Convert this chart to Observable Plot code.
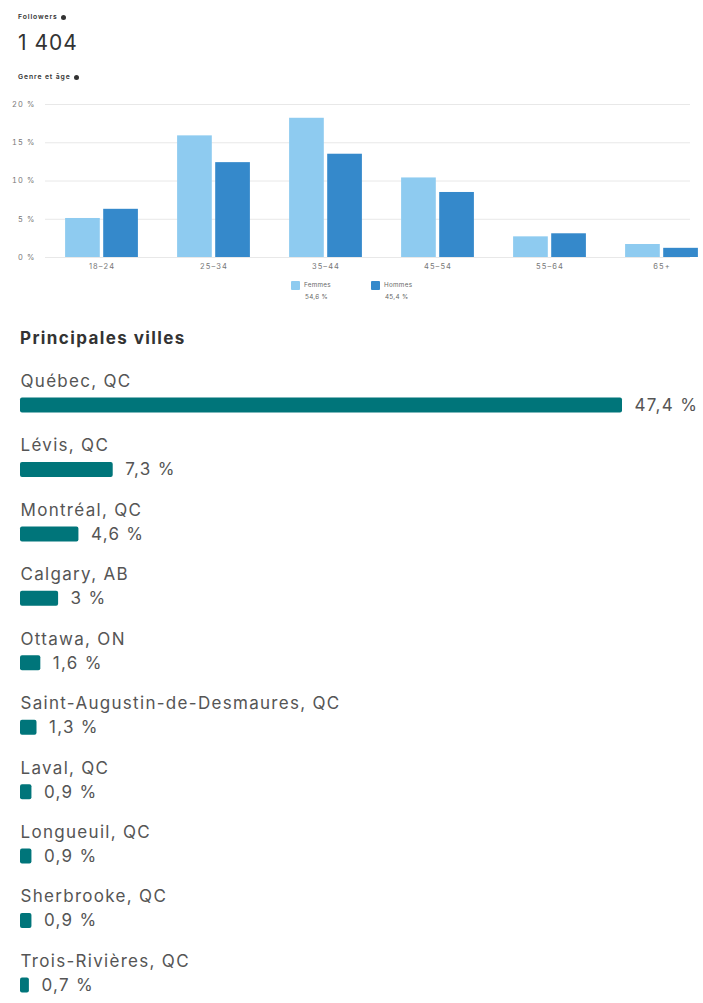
<!DOCTYPE html>
<html>
<head>
<meta charset="utf-8">
<script src="https://cdn.jsdelivr.net/npm/d3@7"></script>
<script src="https://cdn.jsdelivr.net/npm/@observablehq/plot@0.6"></script>
<style>
  html, body { margin: 0; padding: 0; background: #fff; }
  body { width: 703px; height: 1003px; position: relative; overflow: hidden; font-family: Inter, "Noto Sans", sans-serif; color: #333; }
  .abs { position: absolute; }
  .dot { display: inline-block; width: 5px; height: 5px; border-radius: 50%; background: #333; margin-left: 3px; vertical-align: middle; }
  .tiny { font-size: 6.8px; font-weight: 600; color: #333; letter-spacing: 0.9px; }
  .leg { font-size: 6.3px; color: #666; line-height: 8px; letter-spacing: 0.3px; }
  .sw { display: inline-block; width: 9px; height: 9px; vertical-align: middle; margin-right: 4px; border-radius: 1px; }
</style>
</head>
<body>
<div class="abs tiny" style="left:18px; top:12px;">Followers<span class="dot"></span></div>
<div class="abs" style="left:18px; top:30px; font-size:21px; color:#333; letter-spacing:1px;">1 404</div>
<div class="abs tiny" style="left:18px; top:72px;">Genre et âge<span class="dot"></span></div>
<div id="topchart" class="abs" style="left:0; top:90px;"></div>
<div id="legend" class="abs" style="left:291px; top:281px;"></div>
<div class="abs" style="left:20px; top:328px; font-size:17px; font-weight:700; color:#333; letter-spacing:1.4px;">Principales villes</div>
<div id="bottomchart" class="abs" style="left:0; top:355px;"></div>
<script>
// ---- Genre et âge ----
const ages = ["18–24", "25–34", "35–44", "45–54", "55–64", "65+"];
const femmes = [5.1, 15.9, 18.2, 10.4, 2.7, 1.7];
const hommes = [6.3, 12.4, 13.5, 8.5, 3.1, 1.2];
const yTicks = [0, 5, 10, 15, 20];
const legendLabels = ["Femmes", "Hommes"];
const legendTotals = ["54,6 %", "45,4 %"];
const colorFemmes = "#8ecbf0";
const colorHommes = "#3589cb";

// ---- Principales villes ----
const villes = ["Québec, QC", "Lévis, QC", "Montréal, QC", "Calgary, AB", "Ottawa, ON",
  "Saint-Augustin-de-Desmaures, QC", "Laval, QC", "Longueuil, QC", "Sherbrooke, QC", "Trois-Rivières, QC"];
const parts = [47.4, 7.3, 4.6, 3, 1.6, 1.3, 0.9, 0.9, 0.9, 0.7];

const ageData = ages.map((a, i) => ({age: a, f: femmes[i], h: hommes[i]}));
const half = 112 * 0.65 / 2;

const topPlot = Plot.plot({
  width: 703, height: 190,
  marginLeft: 45, marginRight: 13, marginTop: 14, marginBottom: 23,
  style: {fontFamily: "Inter, sans-serif", fontSize: "7.5px", letterSpacing: "1.1px", color: "#777", background: "transparent"},
  x: {domain: ages, range: [45.5, 717.5], paddingInner: 0.35, paddingOuter: 0.175, round: false, label: null, tickSize: 0, tickPadding: 6},
  y: {domain: [0, 20], ticks: 4, tickFormat: d => d + " %", label: null, tickSize: 0, tickPadding: 10},
  marks: [
    Plot.ruleY(yTicks, {stroke: "#e8e8e8", strokeWidth: 1}),
    Plot.barY(ageData, {x: "age", y: "f", fill: colorFemmes, insetRight: half + 1.7}),
    Plot.barY(ageData, {x: "age", y: "h", fill: colorHommes, insetLeft: half + 1.7})
  ]
});
document.getElementById("topchart").appendChild(topPlot);

const leg = document.getElementById("legend");
const legColors = [colorFemmes, colorHommes];
legendLabels.forEach((l, i) => {
  const d = document.createElement("div");
  d.className = "leg";
  d.style.position = "absolute";
  d.style.left = (i * 80) + "px";
  d.style.top = "0px";
  d.innerHTML = `<span class="sw" style="background:${legColors[i]}"></span><span>${l}</span><div style="padding-left:14px; margin-top:3px;">${legendTotals[i]}</div>`;
  d.style.whiteSpace = "nowrap";
  leg.appendChild(d);
});

const cityData = villes.map((v, i) => ({ville: v, part: parts[i], label: String(parts[i]).replace(".", ",") + " %"}));

const bottomPlot = Plot.plot({
  width: 703, height: 680,
  marginLeft: 20, marginRight: 81, marginTop: 0, marginBottom: 0,
  style: {fontFamily: "Inter, sans-serif", letterSpacing: "1.3px", background: "transparent"},
  x: {domain: [0, 47.4], axis: null},
  y: {domain: villes, axis: null, paddingInner: 0.767, paddingOuter: 0.66, round: false},
  marks: [
    Plot.barX(cityData, {x: "part", y: "ville", fill: "#00757a", rx: 2}),
    Plot.text(cityData, {x: 0, y: "ville", text: "ville", textAnchor: "start", dy: -24, fontSize: 17, fill: "#555"}),
    Plot.text(cityData, {x: "part", y: "ville", text: "label", textAnchor: "start", dx: 12, fontSize: 17, fill: "#555"})
  ]
});
document.getElementById("bottomchart").appendChild(bottomPlot);
</script>
</body>
</html>
